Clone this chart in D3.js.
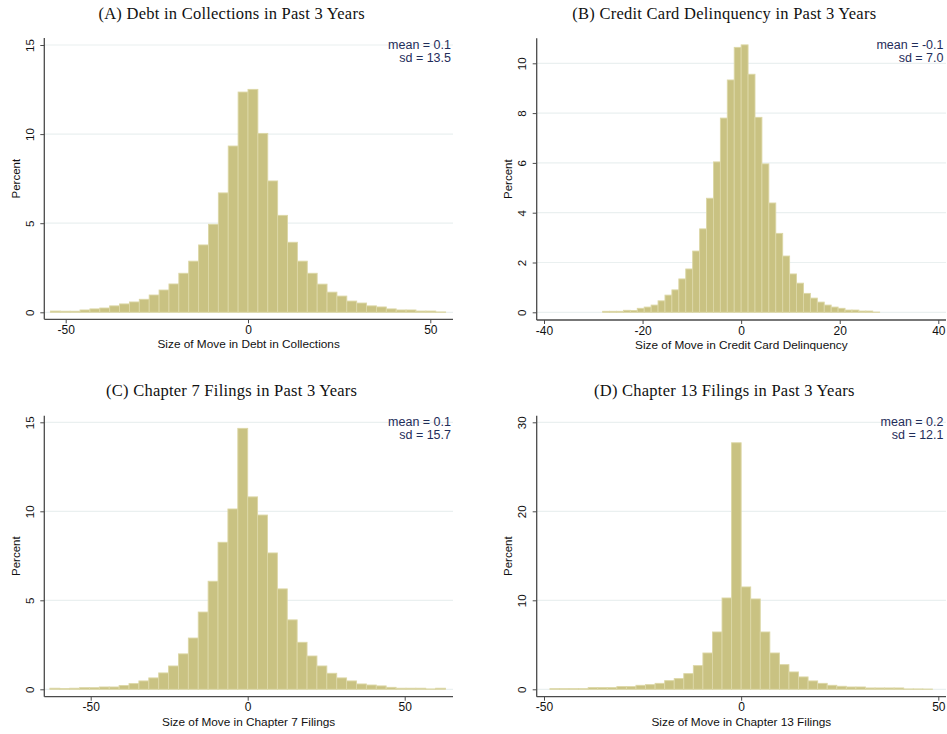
<!DOCTYPE html>
<html>
<head>
<meta charset="utf-8">
<script src="https://cdn.jsdelivr.net/npm/d3@7"></script>
<style>
  body { margin: 0; background: #fff; }
  svg { display: block; }
</style>
</head>
<body>
<svg id="chart" width="947" height="734"></svg>
<script>
// ---------------- DATA ----------------
const titles = [
  "(A) Debt in Collections in Past 3 Years",
  "(B) Credit Card Delinquency in Past 3 Years",
  "(C) Chapter 7 Filings in Past 3 Years",
  "(D) Chapter 13 Filings in Past 3 Years"
];
const xLabels = [
  "Size of Move in Debt in Collections",
  "Size of Move in Credit Card Delinquency",
  "Size of Move in Chapter 7 Filings",
  "Size of Move in Chapter 13 Filings"
];
const meanLabels = ["mean = 0.1", "mean = -0.1", "mean = 0.1", "mean = 0.2"];
const sdLabels = ["sd = 13.5", "sd = 7.0", "sd = 15.7", "sd = 12.1"];

// bin starts and widths (units of the x variable)
const binStart = [-54.2, -28.1, -63.0, -48.5];
const binWidth = [2.71, 1.405, 3.15, 2.425];

// percent in each of 40 bins
const pctA = [0.07, 0.06, 0.06, 0.13, 0.19, 0.24, 0.36, 0.47, 0.58, 0.73,
              0.97, 1.25, 1.59, 2.19, 2.87, 3.78, 4.94, 6.70, 9.33, 12.36,
              12.51, 10.04, 7.37, 5.44, 3.93, 2.87, 2.19, 1.58, 1.13, 0.91,
              0.63, 0.52, 0.36, 0.30, 0.19, 0.13, 0.13, 0.07, 0.07, 0.02];
const pctB = [0.04, 0.04, 0.04, 0.08, 0.07, 0.16, 0.21, 0.29, 0.46, 0.69,
              0.90, 1.34, 1.74, 2.46, 3.35, 4.58, 6.04, 7.80, 9.33, 10.64,
              10.74, 9.56, 7.83, 5.96, 4.39, 3.17, 2.26, 1.54, 1.17, 0.76,
              0.57, 0.41, 0.29, 0.21, 0.16, 0.09, 0.09, 0.05, 0.05, 0.01];
const pctC = [0.06, 0.04, 0.06, 0.09, 0.09, 0.13, 0.13, 0.21, 0.32, 0.47,
              0.64, 0.92, 1.31, 1.99, 2.88, 4.34, 6.07, 8.26, 10.13, 14.66,
              10.81, 9.79, 7.66, 5.64, 3.90, 2.64, 1.87, 1.31, 0.90, 0.64,
              0.47, 0.30, 0.24, 0.19, 0.11, 0.06, 0.06, 0.06, 0.02, 0.06];
const pctD = [0.07, 0.07, 0.07, 0.07, 0.19, 0.19, 0.19, 0.30, 0.30, 0.45,
              0.52, 0.67, 0.97, 1.20, 1.76, 2.66, 4.08, 6.44, 10.26, 27.70,
              11.50, 10.15, 6.44, 4.08, 2.77, 1.95, 1.39, 0.94, 0.67, 0.45,
              0.34, 0.26, 0.26, 0.15, 0.15, 0.15, 0.15, 0.04, 0.04, 0.03];
const series = [pctA, pctB, pctC, pctD];

const xTicks = [[-50, 0, 50], [-40, -20, 0, 20, 40], [-50, 0, 50], [-50, 0, 50]];
const yTicks = [[0, 5, 10, 15], [0, 2, 4, 6, 8, 10], [0, 5, 10, 15], [0, 10, 20, 30]];

// ---------------- LAYOUT ----------------
const layout = [
  { left: 44.3, right: 453, top: 38, bottom: 319.3,
    xd: [-50, 50], xr: [65.7, 430.3], yd: [0, 15], yr: [312.3, 45], titleY: 19, labelX: 30, pctX: 16, meanX: 451 },
  { left: 536.7, right: 946, top: 38.3, bottom: 320,
    xd: [-40, 40], xr: [544, 938.3], yd: [0, 10], yr: [312.3, 63.3], titleY: 19, labelX: 522, pctX: 508, meanX: 943.5 },
  { left: 44.3, right: 453, top: 415.7, bottom: 696.7,
    xd: [-50, 50], xr: [90.7, 404.7], yd: [0, 15], yr: [689.3, 422.3], titleY: 396, labelX: 30, pctX: 16, meanX: 451 },
  { left: 536.7, right: 946, top: 415.7, bottom: 696.7,
    xd: [-50, 50], xr: [544, 938.3], yd: [0, 30], yr: [689.3, 422.3], titleY: 396, labelX: 522, pctX: 508, meanX: 943.5 }
];

const svg = d3.select("#chart");
const sans = "'Liberation Sans', Arial, sans-serif";
const serif = "'Liberation Serif', 'Times New Roman', serif";
const barFill = "#c9c282";
const barStroke = "#dcd7a6";
const axisColor = "#4a4a4a";
const fmt = d => String(d); // plain hyphen-minus like the original

series.forEach((vals, p) => {
  const L = layout[p];
  const x = d3.scaleLinear().domain(L.xd).range(L.xr);
  const y = d3.scaleLinear().domain(L.yd).range(L.yr);
  const g = svg.append("g");

  // gridlines
  g.selectAll("line.grid").data(yTicks[p]).join("line")
    .attr("x1", L.left).attr("x2", L.right)
    .attr("y1", d => y(d)).attr("y2", d => y(d))
    .attr("stroke", "#eaf0f0").attr("stroke-width", 1.2);

  // bars
  const bins = vals.map((v, i) => ({
    x0: binStart[p] + i * binWidth[p],
    x1: binStart[p] + (i + 1) * binWidth[p],
    v
  }));
  g.selectAll("rect.bar").data(bins).join("rect")
    .attr("x", d => x(d.x0))
    .attr("width", d => x(d.x1) - x(d.x0))
    .attr("y", d => y(d.v))
    .attr("height", d => y(0) - y(d.v))
    .attr("fill", barFill)
    .attr("stroke", barStroke)
    .attr("stroke-width", 0.9);

  // y axis
  const yAxis = d3.axisLeft(y).tickValues(yTicks[p]).tickSize(4).tickFormat(fmt);
  const ya = g.append("g").attr("transform", `translate(${L.left},0)`).call(yAxis);
  ya.select(".domain").attr("d", `M0,${L.top}V${L.bottom}`).attr("stroke", axisColor).attr("stroke-width", 1.3);
  ya.selectAll(".tick line").attr("stroke", axisColor);
  ya.selectAll(".tick text")
    .attr("x", 0).attr("y", 0).attr("dy", null)
    .attr("text-anchor", "middle")
    .attr("transform", `translate(${L.labelX - L.left + 4},0) rotate(-90)`)
    .style("font-family", sans).style("font-size", "11.5px").attr("fill", "#111");

  // x axis
  const xAxis = d3.axisBottom(x).tickValues(xTicks[p]).tickSize(4).tickFormat(fmt);
  const xa = g.append("g").attr("transform", `translate(0,${L.bottom})`).call(xAxis);
  xa.select(".domain").attr("d", `M${L.left},0H${L.right}`).attr("stroke", axisColor).attr("stroke-width", 1.3);
  xa.selectAll(".tick line").attr("stroke", axisColor);
  xa.selectAll(".tick text").attr("y", 6).style("font-family", sans).style("font-size", "12px").attr("fill", "#111");
  xa.attr("font-family", null).attr("font-size", null);
  ya.attr("font-family", null).attr("font-size", null);

  // axis titles
  g.append("text")
    .attr("x", (L.left + L.right) / 2).attr("y", L.bottom + 29)
    .attr("text-anchor", "middle")
    .style("font-family", sans).style("font-size", "11.8px").attr("fill", "#111")
    .text(xLabels[p]);
  g.append("text")
    .attr("transform", `translate(${L.pctX + 4},${(L.top + L.bottom) / 2}) rotate(-90)`)
    .attr("text-anchor", "middle")
    .style("font-family", sans).style("font-size", "11.5px").attr("fill", "#111")
    .text("Percent");

  // title
  g.append("text")
    .attr("x", (L.left + L.right) / 2 - 17).attr("y", L.titleY)
    .attr("text-anchor", "middle")
    .style("font-family", serif).style("font-size", "16.5px")
    .style("letter-spacing", "0.25px").attr("fill", "#111")
    .text(titles[p]);

  // mean / sd
  g.append("text")
    .attr("x", L.meanX).attr("y", L.top + 10.5)
    .attr("text-anchor", "end")
    .style("font-family", sans).style("font-size", "12.5px").attr("fill", "#1f2d5a")
    .text(meanLabels[p]);
  g.append("text")
    .attr("x", L.meanX).attr("y", L.top + 23.5)
    .attr("text-anchor", "end")
    .style("font-family", sans).style("font-size", "12.5px").attr("fill", "#1f2d5a")
    .text(sdLabels[p]);
});
</script>
</body>
</html>
